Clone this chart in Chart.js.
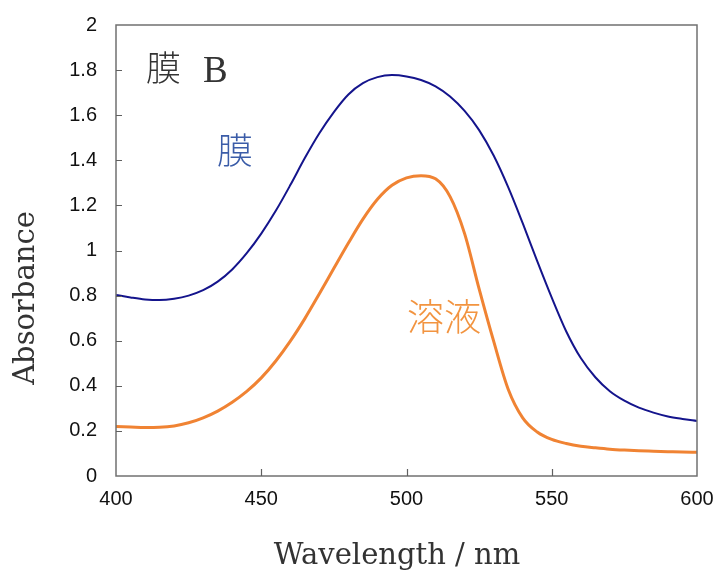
<!DOCTYPE html>
<html>
<head>
<meta charset="utf-8">
<script src="https://cdn.jsdelivr.net/npm/chart.js@4/dist/chart.umd.min.js"></script>
<style>
  html, body { margin: 0; padding: 0; background: #ffffff; }
  #wrap { width: 716px; height: 576px; }
</style>
</head>
<body>
<div id="wrap"><canvas id="c" width="716" height="576"></canvas></div>
<script>
// Wavelength (nm)
const wavelengths = [400,405,410,415,420,425,430,435,440,445,450,455,460,465,470,475,480,485,490,495,500,505,510,515,520,525,530,535,540,545,550,555,560,565,570,575,580,585,590,595,600];
// 膜 (film) absorbance
const membraneValues = [0.803,0.792,0.783,0.780,0.786,0.800,0.824,0.862,0.916,0.988,1.075,1.176,1.290,1.410,1.520,1.614,1.692,1.742,1.769,1.778,1.772,1.756,1.728,1.683,1.619,1.534,1.421,1.281,1.121,0.953,0.791,0.641,0.523,0.438,0.376,0.334,0.303,0.281,0.264,0.253,0.244];
// 溶液 (solution) absorbance
const solutionValues = [0.219,0.217,0.215,0.216,0.222,0.236,0.258,0.288,0.327,0.375,0.435,0.510,0.598,0.698,0.808,0.921,1.033,1.139,1.227,1.289,1.322,1.332,1.318,1.239,1.075,0.830,0.598,0.385,0.258,0.195,0.162,0.144,0.132,0.125,0.119,0.115,0.112,0.110,0.108,0.106,0.105];
// Tick values
const xTickValues = [400,450,500,550,600];
const yTickValues = [0,0.2,0.4,0.6,0.8,1,1.2,1.4,1.6,1.8,2];

const membranePts = wavelengths.map((w, i) => ({x: w, y: membraneValues[i]}));
const solutionPts = wavelengths.map((w, i) => ({x: w, y: solutionValues[i]}));

const framePlugin = {
  id: 'frameAndText',
  afterDraw(chart) {
    const ctx = chart.ctx;
    const a = chart.chartArea;
    const xs = chart.scales.x, ys = chart.scales.y;
    ctx.save();
    ctx.strokeStyle = '#707070';
    ctx.lineWidth = 1.5;
    ctx.strokeRect(a.left, a.top, a.right - a.left, a.bottom - a.top);
    ctx.lineWidth = 1.2;
    ctx.strokeStyle = '#606060';
    ctx.beginPath();
    yTickValues.forEach(v => {
      if (v === 0 || v === 2) return;
      const y = Math.round(ys.getPixelForValue(v)) + 0.5;
      ctx.moveTo(a.left, y); ctx.lineTo(a.left + 6, y);
    });
    xTickValues.forEach(v => {
      if (v === 400 || v === 600) return;
      const x = Math.round(xs.getPixelForValue(v)) + 0.5;
      ctx.moveTo(x, a.bottom); ctx.lineTo(x, a.bottom - 7);
    });
    ctx.stroke();

    // Axis titles
    ctx.fillStyle = '#333333';
    ctx.font = '29px "DejaVu Serif", serif';
    ctx.textAlign = 'center';
    ctx.textBaseline = 'middle';
    ctx.fillText('Wavelength / nm', 397, 556);
    ctx.save();
    ctx.translate(26, 298);
    ctx.rotate(-Math.PI / 2);
    ctx.fillText('Absorbance', 0, 0);
    ctx.restore();

    // Annotations
    ctx.textAlign = 'left';
    ctx.textBaseline = 'alphabetic';
    ctx.fillStyle = '#333333';
    ctx.font = '300 35px "Noto Sans CJK JP"';
    ctx.fillText('膜', 146, 81);
    ctx.font = '37px "Liberation Serif", serif';
    ctx.fillText('B', 203, 82);

    ctx.fillStyle = '#3b5ca8';
    ctx.font = '300 36px "Noto Sans CJK JP"';
    ctx.fillText('膜', 217, 164);

    ctx.fillStyle = '#f29440';
    ctx.font = '300 37px "Noto Sans CJK JP"';
    ctx.fillText('溶液', 407, 331);
    ctx.restore();
  }
};

new Chart(document.getElementById('c'), {
  type: 'line',
  data: {
    datasets: [
      {
        label: '膜',
        data: membranePts,
        borderColor: '#14148c',
        borderWidth: 2,
        pointRadius: 0,
        cubicInterpolationMode: 'monotone',
        fill: false
      },
      {
        label: '溶液',
        data: solutionPts,
        borderColor: '#f08333',
        borderWidth: 3,
        pointRadius: 0,
        cubicInterpolationMode: 'monotone',
        fill: false
      }
    ]
  },
  options: {
    responsive: false,
    animation: false,
    events: [],
    layout: { padding: { left: 0, right: 19, top: 25, bottom: 0 } },
    plugins: { legend: { display: false }, tooltip: { enabled: false } },
    scales: {
      x: {
        type: 'linear',
        min: 400, max: 600,
        afterBuildTicks(scale) { scale.ticks = xTickValues.map(v => ({value: v})); },
        afterFit(scale) { scale.height = 100; scale.paddingLeft = 0; scale.paddingRight = 0; },
        grid: { display: false, drawTicks: false },
        border: { display: false },
        ticks: {
          padding: 11,
          color: '#111111',
          font: { family: '"Liberation Sans", sans-serif', size: 20 },
          maxRotation: 0
        }
      },
      y: {
        type: 'linear',
        min: 0, max: 2,
        afterBuildTicks(scale) { scale.ticks = yTickValues.map(v => ({value: v})); },
        afterFit(scale) { scale.width = 116; scale.paddingTop = 0; scale.paddingBottom = 0; },
        grid: { display: false, drawTicks: false },
        border: { display: false },
        ticks: {
          padding: 19,
          color: '#111111',
          font: { family: '"Liberation Sans", sans-serif', size: 20 },
          callback: (v) => String(Math.round(v * 10) / 10)
        }
      }
    }
  },
  plugins: [framePlugin]
});
</script>
</body>
</html>
